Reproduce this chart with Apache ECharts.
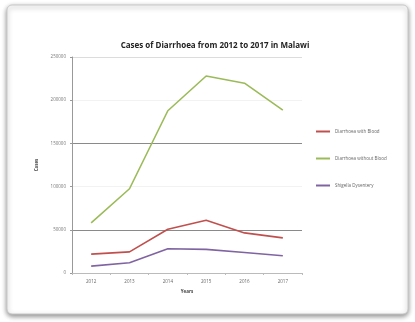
<!DOCTYPE html>
<html><head><meta charset="utf-8">
<script src="https://cdn.jsdelivr.net/npm/echarts@6/dist/echarts.min.js"></script>
<style>html,body{margin:0;padding:0;background:#fff;}#c{width:415px;height:322px;}</style>
</head><body><div id="c"></div>
<script>
const years = ['2012','2013','2014','2015','2016','2017'];
const withBlood = [21900, 24500, 50700, 61000, 46400, 40700];
const withoutBlood = [58000, 97500, 187800, 228000, 219700, 188500];
const shigella = [8000, 11900, 28000, 27300, 23800, 20000];
const seriesNames = ['Diarrhoea with Blood', 'Diarrhoea without Blood', 'Shigella Dysentery'];
const yTicks = [0, 50000, 100000, 150000, 200000, 250000];

const chart = echarts.init(document.getElementById('c'), null, {renderer:'canvas'});
const font = 'Open Sans, Liberation Sans, sans-serif';
chart.setOption({
  animation: false,
  backgroundColor: 'transparent',
  graphic: [{
    type: 'rect', z: -10, silent: true,
    shape: {x: 7, y: 5, width: 401, height: 309, r: 5},
    style: {fill: '#fff', stroke: '#c8c8c8', lineWidth: 1, shadowBlur: 5, shadowOffsetY: 2, shadowColor: 'rgba(0,0,0,0.45)'}
  }],
  title: {
    text: 'Cases of Diarrhoea from 2012 to 2017 in Malawi',
    left: 210, top: 37, textAlign: 'center',
    textStyle: {fontSize: 8, fontWeight: 'bold', color: '#222', fontFamily: font}
  },
  legend: {
    orient: 'vertical', left: 311, top: 124, itemGap: 22,
    itemWidth: 14, itemHeight: 2,
    icon: 'rect',
    textStyle: {fontSize: 4.5, color: '#666', fontFamily: font},
    data: seriesNames
  },
  grid: {left: 72, right: 113, top: 57, bottom: 49},
  xAxis: {
    type: 'category', data: years, boundaryGap: true,
    name: 'Years', nameLocation: 'middle', nameGap: 14,
    nameTextStyle: {fontSize: 4.5, fontWeight: 'bold', color: '#444', fontFamily: font},
    axisLine: {lineStyle: {color: '#bbb', width: 1}},
    axisTick: {show: true, length: 2, lineStyle: {color: '#bbb'}},
    axisLabel: {fontSize: 4.5, color: '#666', margin: 6, fontFamily: font}
  },
  yAxis: {
    type: 'value', min: 0, max: 250000, interval: 50000,
    name: 'Cases', nameLocation: 'middle', nameGap: 24,
    nameTextStyle: {fontSize: 4.5, fontWeight: 'bold', color: '#444', fontFamily: font},
    axisLine: {show: true, lineStyle: {color: '#999', width: 1}},
    axisTick: {show: true, length: 2, lineStyle: {color: '#999'}},
    axisLabel: {fontSize: 4.5, color: '#777', margin: 6, fontFamily: font,
      formatter: v => yTicks.includes(v) ? String(v) : ''},
    splitLine: {show: true, lineStyle: {color: ['rgba(0,0,0,0)', '#8a8a8a', 'rgba(0,0,0,0.05)', '#8a8a8a', 'rgba(0,0,0,0.05)', '#dcdcdc'], width: 1}}
  },
  series: [
    {name: seriesNames[0], type: 'line', data: withBlood, symbol: 'none', lineStyle: {color: '#c0504d', width: 1.6}, itemStyle: {color: '#c0504d'}},
    {name: seriesNames[1], type: 'line', data: withoutBlood, symbol: 'none', lineStyle: {color: '#9bbb59', width: 1.6}, itemStyle: {color: '#9bbb59'}},
    {name: seriesNames[2], type: 'line', data: shigella, symbol: 'none', lineStyle: {color: '#8064a2', width: 1.6}, itemStyle: {color: '#8064a2'}}
  ]
});
</script></body></html>
